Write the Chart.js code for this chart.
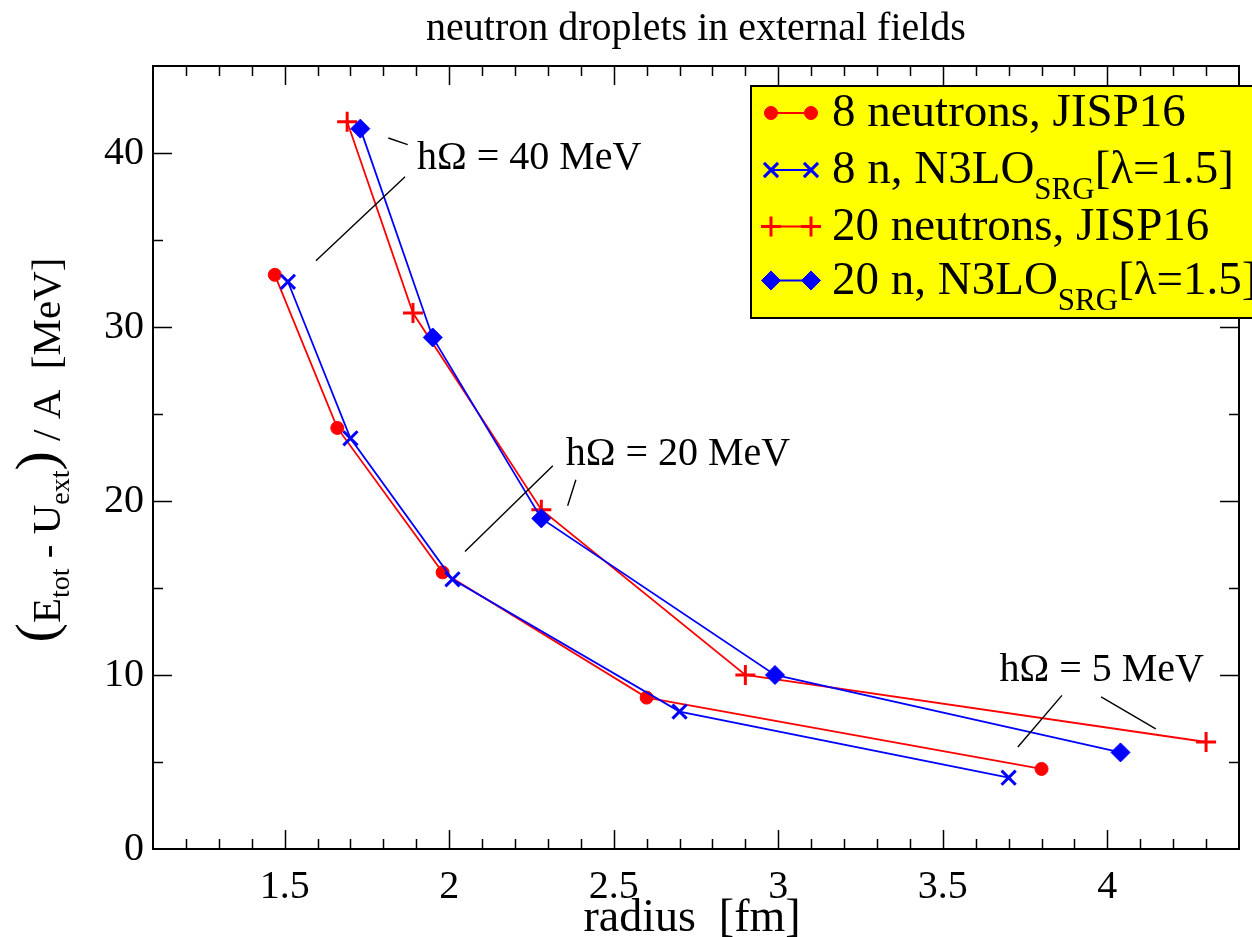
<!DOCTYPE html>
<html>
<head>
<meta charset="utf-8">
<title>neutron droplets in external fields</title>
<script src="https://cdn.jsdelivr.net/npm/chart.js@4.4.1/dist/chart.umd.min.js"></script>
<style>
  html, body { margin: 0; padding: 0; background: #fff; }
  #chart { display: block; }
</style>
</head>
<body>
<canvas id="chart" width="1252" height="937"></canvas>
<script>
// Valores.
const r8Jisp = [1.47, 1.66, 1.98, 2.60, 3.80];
const e8Jisp = [33.0, 24.2, 15.9, 8.7, 4.6];
const r8N3lo = [1.51, 1.70, 2.01, 2.70, 3.70];
const e8N3lo = [32.6, 23.6, 15.5, 7.9, 4.1];
const r20Jisp = [1.69, 1.89, 2.28, 2.90, 4.30];
const e20Jisp = [41.8, 30.8, 19.5, 10.0, 6.15];
const r20N3lo = [1.73, 1.95, 2.28, 2.99, 4.04];
const e20N3lo = [41.4, 29.4, 19.0, 10.0, 5.55];

const xTickValues = [1.5, 2, 2.5, 3, 3.5, 4];
const xTickLabels = ["1.5", "2", "2.5", "3", "3.5", "4"];
const yTickValues = [0, 10, 20, 30, 40];
const yTickLabels = ["0", "10", "20", "30", "40"];

// Anotaciones hOmega (coordenadas en unidades de datos)
const annoLabels = ["hΩ = 40 MeV", "hΩ = 20 MeV", "hΩ = 5 MeV"];
const annoTextPos = [[1.902, 39.1], [2.354, 22.05], [3.672, 9.63]];
const annoLines = [
  [[1.815, 40.86, 1.874, 40.48], [1.866, 38.64, 1.595, 33.81]],
  [[2.315, 22.03, 2.048, 17.10], [2.385, 21.22, 2.360, 19.73]],
  [[3.862, 8.83, 3.728, 5.86], [3.981, 8.74, 4.147, 6.90]],
];

(function () {
  "use strict";

  const SERIF = '"Liberation Serif", "Times New Roman", serif';
  const RED = "#ff0000";
  const BLUE = "#0000ff";

  function pts(xs, ys) {
    return xs.map((x, i) => ({ x: x, y: ys[i] }));
  }

  const datasets = [
    {
      label: "8 neutrons, JISP16",
      data: pts(r8Jisp, e8Jisp),
      borderColor: RED, backgroundColor: RED,
      pointStyle: "circle", pointRadius: 6.5, pointBorderWidth: 1,
      order: 4,
    },
    {
      label: "8 n, N3LO_SRG[λ=1.5]",
      data: pts(r8N3lo, e8N3lo),
      borderColor: BLUE, backgroundColor: BLUE,
      pointStyle: "crossRot", pointRadius: 10, pointBorderWidth: 3,
      order: 3,
    },
    {
      label: "20 neutrons, JISP16",
      data: pts(r20Jisp, e20Jisp),
      borderColor: RED, backgroundColor: RED,
      pointStyle: "cross", pointRadius: 10, pointBorderWidth: 3,
      order: 2,
    },
    {
      label: "20 n, N3LO_SRG[λ=1.5]",
      data: pts(r20N3lo, e20N3lo),
      borderColor: BLUE, backgroundColor: BLUE,
      pointStyle: "rectRot", pointRadius: 9.5, pointBorderWidth: 1,
      order: 1,
    },
  ];
  datasets.forEach((d) => {
    d.showLine = true;
    d.borderWidth = 1.8;
    d.tension = 0;
    d.pointBorderColor = d.borderColor;
    d.pointBackgroundColor = d.backgroundColor;
    d.pointHoverRadius = d.pointRadius;
    d.clip = false;
  });

  function markerOpts(ds) {
    return {
      pointStyle: ds.pointStyle,
      radius: ds.pointRadius,
      rotation: 0,
      borderWidth: ds.pointBorderWidth,
    };
  }

  // Marco, ticks hacia dentro, titulos, anotaciones y leyenda
  const decor = {
    id: "decor",
    afterDraw(chart) {
      const ctx = chart.ctx;
      const a = chart.chartArea;
      const xs = chart.scales.x;
      const ys = chart.scales.y;
      ctx.save();

      // ticks
      ctx.strokeStyle = "#000";
      ctx.lineWidth = 1.5;
      ctx.beginPath();
      for (let i = 12; i <= 43; i++) {
        const v = i / 10;
        const len = (i % 5 === 0) ? 19 : 10;
        const px = Math.round(xs.getPixelForValue(v)) + 0.5;
        ctx.moveTo(px, a.bottom); ctx.lineTo(px, a.bottom - len);
        ctx.moveTo(px, a.top); ctx.lineTo(px, a.top + len);
      }
      for (let v = 5; v <= 40; v += 5) {
        const len = (v % 10 === 0) ? 19 : 10;
        const py = Math.round(ys.getPixelForValue(v)) + 0.5;
        ctx.moveTo(a.left, py); ctx.lineTo(a.left + len, py);
        ctx.moveTo(a.right, py); ctx.lineTo(a.right - len, py);
      }
      ctx.stroke();

      // marco
      ctx.lineWidth = 2;
      ctx.strokeRect(a.left, a.top, a.right - a.left, a.bottom - a.top);

      // anotaciones
      ctx.fillStyle = "#000";
      ctx.lineWidth = 1.4;
      ctx.font = "40px " + SERIF;
      ctx.textAlign = "left";
      ctx.textBaseline = "alphabetic";
      annoLabels.forEach((txt, i) => {
        const p = annoTextPos[i];
        ctx.fillText(txt, xs.getPixelForValue(p[0]), ys.getPixelForValue(p[1]));
        ctx.beginPath();
        annoLines[i].forEach((l) => {
          ctx.moveTo(xs.getPixelForValue(l[0]), ys.getPixelForValue(l[1]));
          ctx.lineTo(xs.getPixelForValue(l[2]), ys.getPixelForValue(l[3]));
        });
        ctx.stroke();
      });

      // titulo
      ctx.font = "40px " + SERIF;
      ctx.textAlign = "center";
      ctx.fillText("neutron droplets in external fields", (a.left + a.right) / 2, 40);

      // titulo eje x
      ctx.font = "46px " + SERIF;
      ctx.fillText("radius  [fm]", 692, 931);

      // titulo eje y (rotado, con subindices)
      const parts = [
        { t: "(", f: 58, dy: -5 },
        { t: "E", f: 41, dy: 0 },
        { t: "tot", f: 28, dy: 9 },
        { t: " - U", f: 41, dy: 0 },
        { t: "ext", f: 28, dy: 9 },
        { t: ")", f: 58, dy: -5 },
        { t: " / A  [MeV]", f: 41, dy: 0 },
      ];
      ctx.textAlign = "left";
      let total = 0;
      parts.forEach((p) => { ctx.font = p.f + "px " + SERIF; p.w = ctx.measureText(p.t).width; total += p.w; });
      ctx.save();
      ctx.translate(60, 450);
      ctx.rotate(-Math.PI / 2);
      let cx = -total / 2;
      parts.forEach((p) => {
        ctx.font = p.f + "px " + SERIF;
        ctx.fillText(p.t, cx, p.dy);
        cx += p.w;
      });
      ctx.restore();

      // leyenda
      const lx = a.left + 598, ly = a.top + 20;
      ctx.fillStyle = "#ffff00";
      ctx.fillRect(lx, ly, 520, 232);
      ctx.lineWidth = 2;
      ctx.strokeStyle = "#000";
      ctx.strokeRect(lx, ly, 520, 232);
      const rowY = [113, 170, 226.5, 280.5];
      datasets.forEach((ds, i) => {
        const y = rowY[i];
        ctx.strokeStyle = ds.borderColor;
        ctx.fillStyle = ds.backgroundColor;
        ctx.lineWidth = 1.8;
        ctx.beginPath();
        ctx.moveTo(lx + 20, y); ctx.lineTo(lx + 60, y);
        ctx.stroke();
        [lx + 20, lx + 60].forEach((mx) => {
          ctx.lineWidth = ds.pointBorderWidth;
          Chart.helpers.drawPoint(ctx, markerOpts(ds), mx, y);
        });
        ctx.fillStyle = "#000";
        const tx = lx + 81, base = y + 13;
        const lab = ds.label;
        const k = lab.indexOf("_SRG");
        if (k < 0) {
          ctx.font = "47px " + SERIF;
          ctx.fillText(lab, tx, base);
        } else {
          const head = lab.slice(0, k), tail = lab.slice(k + 4);
          ctx.font = "47px " + SERIF;
          ctx.fillText(head, tx, base);
          let x2 = tx + ctx.measureText(head).width;
          ctx.font = "31px " + SERIF;
          ctx.fillText("SRG", x2, base + 16);
          x2 += ctx.measureText("SRG").width;
          ctx.font = "47px " + SERIF;
          ctx.fillText(tail, x2, base);
        }
      });

      ctx.restore();
    },
  };

  new Chart(document.getElementById("chart"), {
    type: "scatter",
    data: { datasets: datasets },
    options: {
      responsive: false,
      animation: false,
      events: [],
      layout: { padding: { top: 66, right: 10, left: 0, bottom: 0 } },
      plugins: {
        legend: { display: false },
        tooltip: { enabled: false },
        title: { display: false },
      },
      scales: {
        x: {
          type: "linear",
          min: 1.1, max: 4.4,
          grid: { display: false, drawTicks: false },
          border: { display: false },
          ticks: {
            color: "#000",
            font: { family: SERIF, size: 40 },
            padding: 14,
            maxRotation: 0,
            callback: (v, i) => xTickLabels[i],
          },
          afterBuildTicks: (s) => { s.ticks = xTickValues.map((v) => ({ value: v })); },
          afterFit: (s) => { s.height = 88; },
        },
        y: {
          type: "linear",
          min: 0, max: 45,
          grid: { display: false, drawTicks: false },
          border: { display: false },
          ticks: {
            color: "#000",
            font: { family: SERIF, size: 40 },
            padding: 9,
            callback: (v, i) => yTickLabels[i],
          },
          afterBuildTicks: (s) => { s.ticks = yTickValues.map((v) => ({ value: v })); },
          afterFit: (s) => { s.width = 153; },
        },
      },
    },
    plugins: [decor],
  });
})();
</script>
</body>
</html>
